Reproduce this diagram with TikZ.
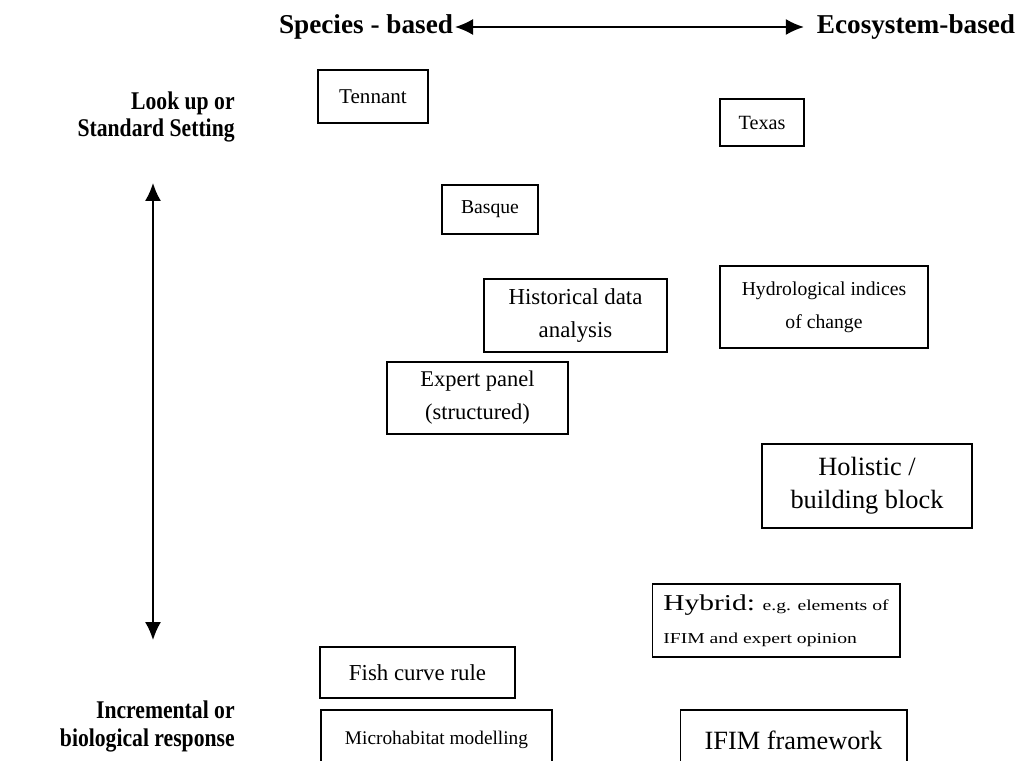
\documentclass[tikz,border=0pt]{standalone}
\usepackage{fontspec}
\setmainfont{Liberation Serif}
\newfontfamily\widefont[FakeStretch=1.3]{Liberation Serif}
\newfontfamily\narrowfont[FakeStretch=0.85]{Liberation Serif}
\usetikzlibrary{arrows.meta}

\begin{document}
\begin{tikzpicture}[
    x=0.02cm, y=-0.02cm,
    method/.style={draw, line width=0.6pt, align=center, inner sep=0pt,
        font=\fontsize{#1}{18.7}\selectfont},
    method/.default=13,
    axislabel/.style={font=\narrowfont\bfseries\fontsize{14.5}{15.9}\selectfont,
        align=right, anchor=east, inner sep=0pt},
    endlabel/.style={font=\bfseries\fontsize{15.5}{18}\selectfont, inner sep=1pt},
    >={Latex[length=3.6mm,width=3.2mm]}
]
\clip (0,0) rectangle (1022,761);

% Horizontal scale
\node[endlabel] (species) at (366,27) {Species - based};
\node[endlabel] (eco) at (916,27) {Ecosystem-based};
\draw[<->, line width=0.85pt, shorten >=0.22cm] (species.east) -- (eco.west);

% Vertical scale
\node[axislabel] (lookup) at (235,117) {Look up or\\Standard Setting};
\node[axislabel] (incr) at (235,726) {Incremental or\\biological response};
\coordinate (up) at (153,183);
\coordinate (down) at (153,640);
\draw[<->, line width=0.85pt] (up) -- (down);

% Methods
\node[method=12, minimum width=2.2cm, minimum height=1.06cm] (tennant) at (373,96.5) {Tennant};
\node[method=11.5, minimum width=1.68cm, minimum height=0.94cm] (texas) at (762,122.5) {Texas};
\node[method=11.2, minimum width=1.92cm, minimum height=0.98cm] (basque) at (490,209.5) {Basque};
\node[method=13, minimum width=3.66cm, minimum height=1.46cm] (histdata) at (575.5,315.5) {Historical data\\analysis};
\node[method=11.2, minimum width=4.16cm, minimum height=1.64cm] (hydro) at (824,307) {Hydrological indices\\of change};
\node[method=12.8, minimum width=3.62cm, minimum height=1.44cm] (expert) at (477.5,398) {Expert panel\\(structured)};
\node[method=15, minimum width=4.2cm, minimum height=1.68cm] (holistic) at (867,486) {Holistic /\\building block};
\node[method, align=left, minimum width=4.96cm, minimum height=1.46cm] (hybrid) at (776,620.5)
    {{\widefont\fontsize{12.9}{18.7}\selectfont Hybrid:} {\widefont\fontsize{8.6}{18.7}\selectfont e.g. elements of}\\
     {\widefont\fontsize{8.6}{18.7}\selectfont IFIM and expert opinion}};
\node[method=13, minimum width=3.9cm, minimum height=1.02cm] (fish) at (417.5,672.5) {Fish curve rule};
\node[method=11, minimum width=4.62cm, minimum height=1.2cm] (microhab) at (436.5,740) {Microhabitat modelling};
\node[method=15, minimum width=4.54cm, minimum height=1.2cm] (ifim) at (793.5,740) {IFIM framework};
\end{tikzpicture}
\end{document}
